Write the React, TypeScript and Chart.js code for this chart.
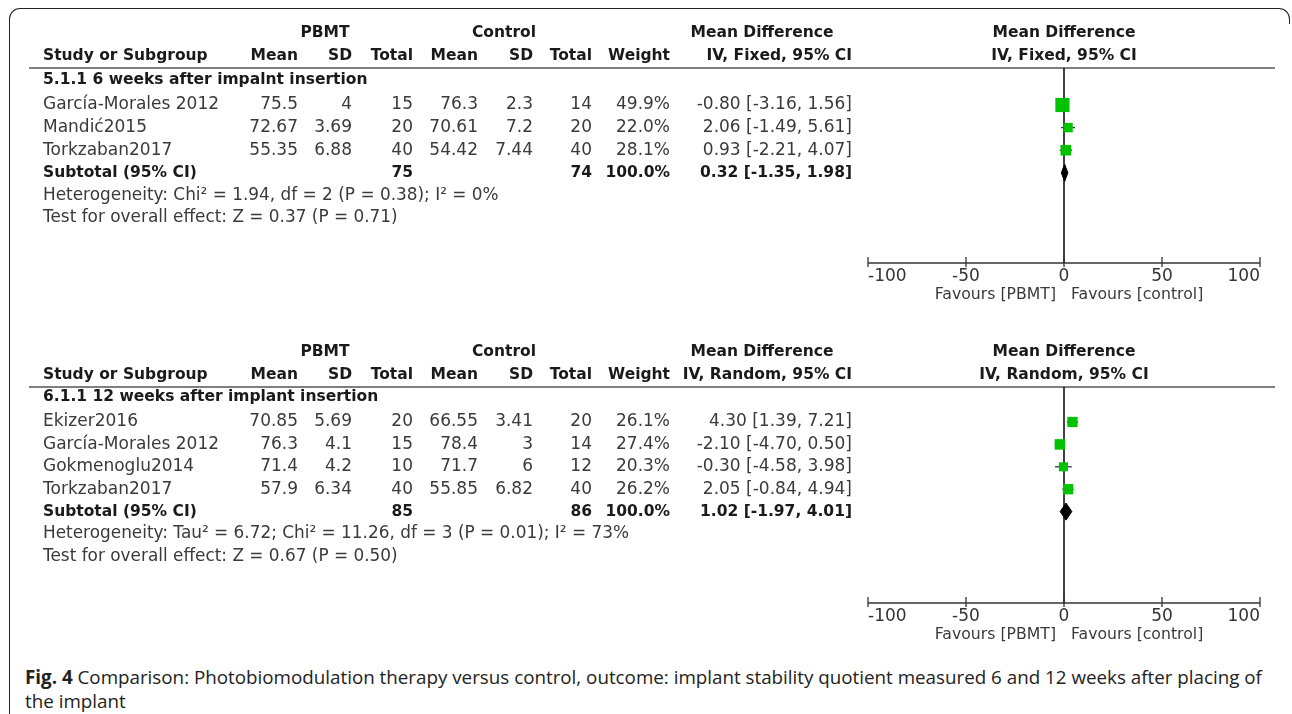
import React, { useEffect, useRef } from 'react';
import { Chart, registerables } from 'chart.js';

Chart.register(...registerables);

// ---------------- Data: 5.1.1 (6 weeks) ----------------
const studies6 = ['García-Morales 2012', 'Mandić2015', 'Torkzaban2017'];
const pbmtMean6 = [75.5, 72.67, 55.35];
const pbmtSD6 = [4, 3.69, 6.88];
const pbmtN6 = [15, 20, 40];
const ctrlMean6 = [76.3, 70.61, 54.42];
const ctrlSD6 = [2.3, 7.2, 7.44];
const ctrlN6 = [14, 20, 40];
const weight6 = [49.9, 22.0, 28.1];
const md6 = [-0.8, 2.06, 0.93];
const lo6 = [-3.16, -1.49, -2.21];
const hi6 = [1.56, 5.61, 4.07];
const total6 = [75, 74];
const pooled6 = [0.32, -1.35, 1.98];

// ---------------- Data: 6.1.1 (12 weeks) ----------------
const studies12 = ['Ekizer2016', 'García-Morales 2012', 'Gokmenoglu2014', 'Torkzaban2017'];
const pbmtMean12 = [70.85, 76.3, 71.4, 57.9];
const pbmtSD12 = [5.69, 4.1, 4.2, 6.34];
const pbmtN12 = [20, 15, 10, 40];
const ctrlMean12 = [66.55, 78.4, 71.7, 55.85];
const ctrlSD12 = [3.41, 3, 6, 6.82];
const ctrlN12 = [20, 14, 12, 40];
const weight12 = [26.1, 27.4, 20.3, 26.2];
const md12 = [4.3, -2.1, -0.3, 2.05];
const lo12 = [1.39, -4.7, -4.58, -0.84];
const hi12 = [7.21, 0.5, 3.98, 4.94];
const total12 = [85, 86];
const pooled12 = [1.02, -1.97, 4.01];

const xTicks = [-100, -50, 0, 50, 100];
const favourLabels = ['Favours [PBMT]', 'Favours [control]'];

const FONT = '"DejaVu Sans", Verdana, sans-serif';
const GREEN = '#00c200';
const COL = {
  name: 43, pMean: 298, pSD: 352, pN: 413, cMean: 478, cSD: 533, cN: 592,
  weight: 670, ci: 852, pHead: 325, cHead: 504, mdHead: 762, lineL: 29, lineR: 1275,
};

type Section = {
  group: string; method: string; studies: string[];
  pMean: number[]; pSD: number[]; pN: number[];
  cMean: number[]; cSD: number[]; cN: number[];
  weight: number[]; md: number[]; lo: number[]; hi: number[];
  total: number[]; pooled: number[]; het: string; test: string;
  H: number; top: number; axisY: number; yMin: number; yMax: number; offset: number;
};

const sections: Section[] = [
  {
    group: '5.1.1 6 weeks after impalnt insertion', method: 'IV, Fixed, 95% CI', studies: studies6,
    pMean: pbmtMean6, pSD: pbmtSD6, pN: pbmtN6, cMean: ctrlMean6, cSD: ctrlSD6, cN: ctrlN6,
    weight: weight6, md: md6, lo: lo6, hi: hi6, total: total6, pooled: pooled6,
    het: 'Heterogeneity: Chi² = 1.94, df = 2 (P = 0.38); I² = 0%',
    test: 'Test for overall effect: Z = 0.37 (P = 0.71)',
    H: 320, top: 68, axisY: 263, yMin: -0.637, yMax: 7.99, offset: 0,
  },
  {
    group: '6.1.1 12 weeks after implant insertion', method: 'IV, Random, 95% CI', studies: studies12,
    pMean: pbmtMean12, pSD: pbmtSD12, pN: pbmtN12, cMean: ctrlMean12, cSD: ctrlSD12, cN: ctrlN12,
    weight: weight12, md: md12, lo: lo12, hi: hi12, total: total12, pooled: pooled12,
    het: 'Heterogeneity: Tau² = 6.72; Chi² = 11.26, df = 3 (P = 0.01); I² = 73%',
    test: 'Test for overall effect: Z = 0.67 (P = 0.50)',
    H: 340, top: 67, axisY: 283, yMin: -0.5625, yMax: 9.08, offset: 320,
  },
];

const f2 = (v: number) => v.toFixed(2);
const ciText = (m: number, l: number, h: number) => `${f2(m)} [${f2(l)}, ${f2(h)}]`;

function txt(ctx: CanvasRenderingContext2D, s: string, x: number, y: number, align: CanvasTextAlign, font: string, color: string) {
  ctx.font = font;
  ctx.fillStyle = color;
  ctx.textAlign = align;
  ctx.textBaseline = 'middle';
  ctx.fillText(s, x, y);
}

function ForestSection({ s }: { s: Section }) {
  const ref = useRef<HTMLCanvasElement | null>(null);
  useEffect(() => {
    if (!ref.current) return;
    const n = s.studies.length;
    const subRow = n + 1;
    const BOLD = `bold 15.5px ${FONT}`;
    const REG = `17px ${FONT}`;
    const HET = `16.9px ${FONT}`;
    const C_REG = '#3a3a3a';
    const C_BOLD = '#1a1a1a';

    const ciSets = s.studies.map((_, i) => ({
      type: 'line' as const,
      data: [{ x: s.lo[i], y: i + 1 }, { x: s.hi[i], y: i + 1 }],
      borderColor: '#333',
      borderWidth: 1.3,
      pointRadius: 0,
      order: 3,
    }));
    const squares = {
      type: 'scatter' as const,
      data: s.md.map((m, i) => ({ x: m, y: i + 1 })),
      pointStyle: 'rect',
      pointRadius: s.weight.map((w) => Math.sqrt(w) * 1.42),
      backgroundColor: GREEN,
      borderWidth: 0,
      order: 1,
    };
    const h = 0.38;
    const [pm, pl, ph] = s.pooled;
    const diamond = {
      type: 'line' as const,
      data: [
        { x: pl, y: subRow }, { x: pm, y: subRow - h }, { x: ph, y: subRow },
        { x: pm, y: subRow + h }, { x: pl, y: subRow },
      ],
      borderColor: '#000',
      backgroundColor: '#000',
      borderWidth: 1,
      pointRadius: 0,
      tension: 0,
      fill: 'shape',
      order: 0,
    };

    const framePlugin = {
      id: 'frame',
      beforeDatasetsDraw(chart: any) {
        const ctx = chart.ctx as CanvasRenderingContext2D;
        const { top, bottom } = chart.chartArea;
        const x = chart.scales.x;
        ctx.save();
        ctx.strokeStyle = '#555';
        ctx.lineWidth = 1.5;
        ctx.beginPath();
        ctx.moveTo(COL.lineL, top);
        ctx.lineTo(COL.lineR, top);
        ctx.stroke();
        const x0 = x.getPixelForValue(0);
        ctx.strokeStyle = '#111';
        ctx.lineWidth = 1.6;
        ctx.beginPath();
        ctx.moveTo(x0, top);
        ctx.lineTo(x0, bottom);
        ctx.stroke();
        ctx.restore();
      },
      afterDraw(chart: any) {
        const ctx = chart.ctx as CanvasRenderingContext2D;
        const { top, bottom } = chart.chartArea;
        const x = chart.scales.x;
        const y = chart.scales.y;
        ctx.save();
        ctx.strokeStyle = '#333';
        ctx.lineWidth = 1.5;
        ctx.beginPath();
        ctx.moveTo(x.getPixelForValue(xTicks[0]), bottom);
        ctx.lineTo(x.getPixelForValue(xTicks[xTicks.length - 1]), bottom);
        ctx.stroke();
        ctx.lineWidth = 1.3;
        x.ticks.forEach((t: any) => {
          const px = x.getPixelForValue(t.value);
          ctx.beginPath();
          ctx.moveTo(px, bottom - 6);
          ctx.lineTo(px, bottom + 4);
          ctx.stroke();
        });
        const x0 = x.getPixelForValue(0);
        txt(ctx, favourLabels[0], x0 - 8, bottom + 32, 'right', `15.7px ${FONT}`, C_REG);
        txt(ctx, favourLabels[1], x0 + 7, bottom + 32, 'left', `15.7px ${FONT}`, C_REG);

        const h1 = top - 35;
        const h2 = top - 12;
        txt(ctx, 'PBMT', COL.pHead, h1, 'center', BOLD, C_BOLD);
        txt(ctx, 'Control', COL.cHead, h1, 'center', BOLD, C_BOLD);
        txt(ctx, 'Mean Difference', COL.mdHead, h1, 'center', BOLD, C_BOLD);
        txt(ctx, 'Mean Difference', x0, h1, 'center', BOLD, C_BOLD);
        txt(ctx, 'Study or Subgroup', COL.name, h2, 'left', BOLD, C_BOLD);
        txt(ctx, 'Mean', COL.pMean, h2, 'right', BOLD, C_BOLD);
        txt(ctx, 'SD', COL.pSD, h2, 'right', BOLD, C_BOLD);
        txt(ctx, 'Total', COL.pN, h2, 'right', BOLD, C_BOLD);
        txt(ctx, 'Mean', COL.cMean, h2, 'right', BOLD, C_BOLD);
        txt(ctx, 'SD', COL.cSD, h2, 'right', BOLD, C_BOLD);
        txt(ctx, 'Total', COL.cN, h2, 'right', BOLD, C_BOLD);
        txt(ctx, 'Weight', COL.weight, h2, 'right', BOLD, C_BOLD);
        txt(ctx, s.method, COL.ci, h2, 'right', BOLD, C_BOLD);
        txt(ctx, s.method, x0, h2, 'center', BOLD, C_BOLD);

        txt(ctx, s.group, COL.name, y.getPixelForValue(-0.1), 'left', BOLD, C_BOLD);
        s.studies.forEach((name, i) => {
          const py = y.getPixelForValue(i + 1);
          txt(ctx, name, COL.name, py, 'left', REG, C_REG);
          txt(ctx, String(s.pMean[i]), COL.pMean, py, 'right', REG, C_REG);
          txt(ctx, String(s.pSD[i]), COL.pSD, py, 'right', REG, C_REG);
          txt(ctx, String(s.pN[i]), COL.pN, py, 'right', REG, C_REG);
          txt(ctx, String(s.cMean[i]), COL.cMean, py, 'right', REG, C_REG);
          txt(ctx, String(s.cSD[i]), COL.cSD, py, 'right', REG, C_REG);
          txt(ctx, String(s.cN[i]), COL.cN, py, 'right', REG, C_REG);
          txt(ctx, s.weight[i].toFixed(1) + '%', COL.weight, py, 'right', REG, C_REG);
          txt(ctx, ciText(s.md[i], s.lo[i], s.hi[i]), COL.ci, py, 'right', REG, C_REG);
        });
        const sy = y.getPixelForValue(subRow);
        txt(ctx, 'Subtotal (95% CI)', COL.name, sy, 'left', BOLD, C_BOLD);
        txt(ctx, String(s.total[0]), COL.pN, sy, 'right', BOLD, C_BOLD);
        txt(ctx, String(s.total[1]), COL.cN, sy, 'right', BOLD, C_BOLD);
        txt(ctx, (100).toFixed(1) + '%', COL.weight, sy, 'right', BOLD, C_BOLD);
        txt(ctx, ciText(pm, pl, ph), COL.ci, sy, 'right', BOLD, C_BOLD);
        txt(ctx, s.het, COL.name, y.getPixelForValue(subRow + 1), 'left', HET, C_REG);
        txt(ctx, s.test, COL.name, y.getPixelForValue(subRow + 2), 'left', HET, C_REG);
        ctx.restore();
      },
    };

    const xScaleHeight = 30;
    const chart = new Chart(ref.current, {
      type: 'scatter',
      data: { datasets: [...ciSets, squares, diamond] as any },
      options: {
        animation: false,
        responsive: false,
        events: [],
        layout: {
          padding: { left: 868, right: 32, top: s.top, bottom: s.H - s.axisY - xScaleHeight },
        },
        plugins: { legend: { display: false }, tooltip: { enabled: false } },
        scales: {
          x: {
            type: 'linear',
            min: xTicks[0],
            max: xTicks[xTicks.length - 1],
            afterBuildTicks: (sc: any) => { sc.ticks = xTicks.map((v) => ({ value: v })); },
            afterFit: (sc: any) => { sc.height = xScaleHeight; },
            grid: { display: false, drawTicks: false },
            border: { display: false },
            ticks: {
              align: 'inner',
              padding: 3,
              color: '#333',
              font: { family: FONT, size: 17 },
              maxRotation: 0,
              autoSkip: false,
            },
          },
          y: {
            type: 'linear',
            reverse: true,
            min: s.yMin,
            max: s.yMax,
            display: false,
          },
        },
      } as any,
      plugins: [framePlugin],
    });
    return () => chart.destroy();
  }, [s]);
  return (
    <canvas
      ref={ref}
      width={1292}
      height={s.H}
      style={{ position: 'absolute', left: 0, top: s.offset, width: 1292, height: s.H }}
    />
  );
}

export default function App() {
  return (
    <div style={{ position: 'fixed', left: 0, top: 0, width: 1292, height: 714, background: '#fff', overflow: 'hidden' }}>
      {sections.map((s, i) => (
        <ForestSection key={i} s={s} />
      ))}
      <div
        style={{
          position: 'absolute', left: 9, top: 8, width: 1281, height: 16,
          borderTop: '1.5px solid #222', borderLeft: '1.5px solid #222', borderRight: '1.5px solid #222',
          borderRadius: '11px 11px 0 0', boxSizing: 'border-box',
        }}
      />
      <div style={{ position: 'absolute', left: 9, top: 20, width: 0, height: 700, borderLeft: '1.5px solid #222' }} />
      <div
        style={{
          position: 'absolute', left: 25, top: 665, width: 1262,
          fontFamily: '"Open Sans", sans-serif', fontSize: 18.8, lineHeight: '24px', color: '#222', whiteSpace: 'nowrap',
        }}
      >
        <div><b>Fig. 4</b> Comparison: Photobiomodulation therapy versus control, outcome: implant stability quotient measured 6 and 12 weeks after placing of</div>
        <div>the implant</div>
      </div>
    </div>
  );
}
